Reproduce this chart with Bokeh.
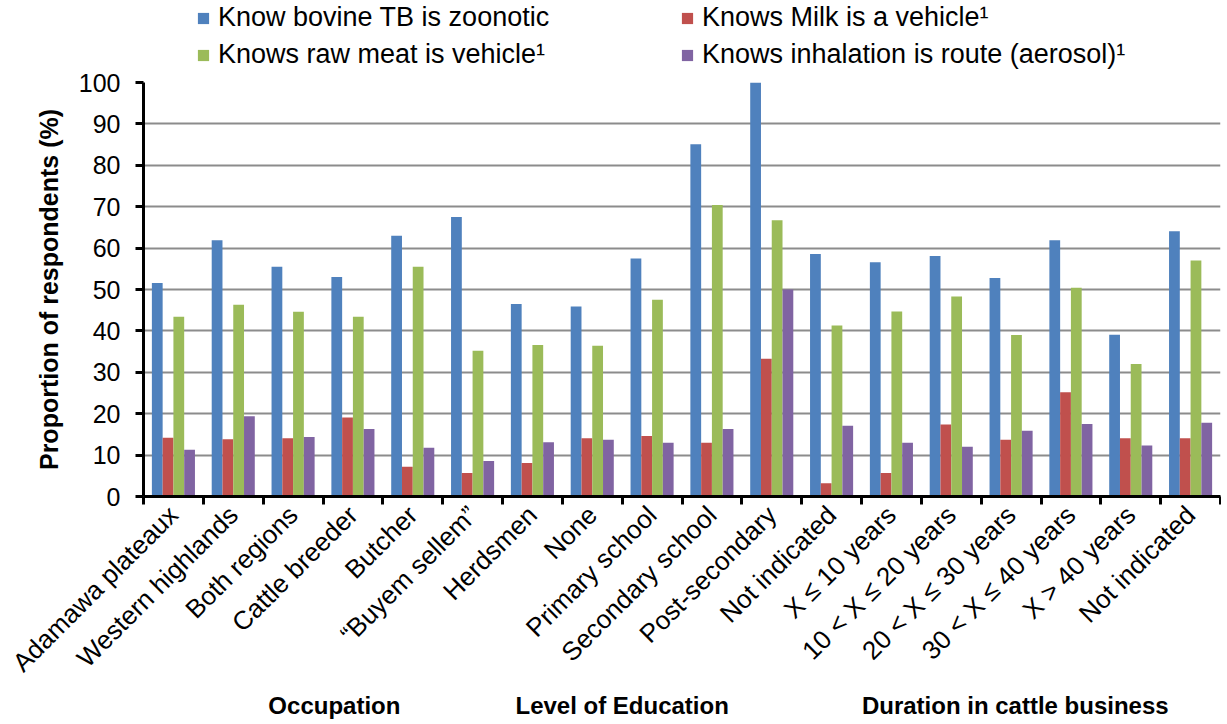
import math
from bokeh.plotting import figure
from bokeh.layouts import column
from bokeh.models import ColumnDataSource, FixedTicker, Legend, LegendItem, LinearAxis, Range1d
from bokeh.embed import file_html
from bokeh.resources import INLINE

categories = ["Adamawa plateaux", "Western highlands", "Both regions", "Cattle breeder",
              "Butcher", "\u201cBuyem sellem\u201d", "Herdsmen", "None", "Primary school",
              "Secondary school", "Post-secondary", "Not indicated", "X \u2264 10 years",
              "10 < X \u2264 20 years", "20 < X \u2264 30 years", "30 < X \u2264 40 years",
              "X > 40 years", "Not indicated"]

zoonotic = [51.6, 61.9, 55.5, 53.0, 63.0, 67.5, 46.5, 45.9, 57.5, 85.1, 100.0, 58.6,
            56.6, 58.1, 52.8, 61.9, 39.1, 64.1]
milk = [14.2, 13.8, 14.1, 19.1, 7.2, 5.7, 8.1, 14.1, 14.6, 13.0, 33.3, 3.2,
        5.7, 17.4, 13.7, 25.2, 14.1, 14.1]
meat = [43.4, 46.3, 44.6, 43.4, 55.5, 35.2, 36.6, 36.4, 47.5, 70.4, 66.7, 41.3,
        44.7, 48.3, 39.0, 50.4, 32.0, 57.0]
aerosol = [11.3, 19.4, 14.4, 16.3, 11.8, 8.6, 13.1, 13.7, 13.0, 16.3, 50.0, 17.1,
           13.0, 12.0, 15.9, 17.5, 12.3, 17.8]

series_names = ["Know bovine TB is zoonotic", "Knows Milk is a vehicle\u00b9",
                "Knows raw meat is vehicle\u00b9", "Knows inhalation is route (aerosol)\u00b9"]
series_values = [zoonotic, milk, meat, aerosol]
colors = ["#4F81BD", "#C0504D", "#9BBB59", "#8064A2"]

group_labels = ["Occupation", "Level of Education", "Duration in cattle business"]
group_label_x = [3.19, 8.0, 14.57]

FONT = "Liberation Sans"
n = len(categories)
bar_w = 0.18
offsets = [-0.27, -0.09, 0.09, 0.27]

# ---------------- main chart ----------------
p = figure(width=1221, height=652, output_backend="svg", toolbar_location=None,
           x_range=Range1d(0, n), y_range=Range1d(0, 100),
           min_border_left=143, min_border_right=1, min_border_top=12, min_border_bottom=226)
p.outline_line_color = None
p.background_fill_color = "white"

sources = []
renderers = []
for vals, col, off in zip(series_values, colors, offsets):
    src = ColumnDataSource(dict(x=[i + 0.5 + off for i in range(n)], top=vals))
    sources.append(src)
    r = p.vbar(x="x", top="top", width=bar_w, bottom=0, source=src,
               fill_color=col, line_color=None)
    renderers.append(r)

p.yaxis.ticker = FixedTicker(ticks=list(range(0, 101, 10)))
p.yaxis.axis_line_width = 3
p.yaxis.axis_line_color = "black"
p.yaxis.major_tick_out = 8
p.yaxis.major_tick_in = 0
p.yaxis.major_tick_line_width = 3
p.yaxis.minor_tick_line_color = None
p.yaxis.major_label_text_font = FONT
p.yaxis.major_label_text_font_size = "25px"
p.yaxis.major_label_text_color = "black"
p.yaxis.major_label_standoff = 15
p.yaxis.axis_label = "Proportion of respondents (%)"
p.yaxis.axis_label_text_font = FONT
p.yaxis.axis_label_text_font_size = "25px"
p.yaxis.axis_label_text_font_style = "bold"
p.yaxis.axis_label_text_color = "black"
p.yaxis.axis_label_standoff = 13

p.ygrid.ticker = FixedTicker(ticks=list(range(0, 101, 10)))
p.ygrid.grid_line_color = "#8C8C8C"
p.ygrid.grid_line_width = 2
p.xgrid.grid_line_color = None

centers = [i + 0.5 for i in range(n)]
bounds = [float(i) for i in range(n + 1)]
xa = p.xaxis[0]
xa.ticker = FixedTicker(ticks=centers, minor_ticks=bounds)
xa.major_label_overrides = {c: lab for c, lab in zip(centers, categories)}
xa.axis_line_width = 3
xa.axis_line_color = "black"
xa.major_tick_out = 0
xa.major_tick_in = 0
xa.minor_tick_out = 8
xa.minor_tick_in = 0
xa.minor_tick_line_width = 3
xa.minor_tick_line_color = "black"
xa.major_label_orientation = math.pi / 4
xa.major_label_text_font = FONT
xa.major_label_text_font_size = "26px"
xa.major_label_text_color = "black"
xa.major_label_standoff = 6

ga = LinearAxis(ticker=FixedTicker(ticks=group_label_x),
                major_label_overrides={gx: g for gx, g in zip(group_label_x, group_labels)},
                axis_line_color=None, major_tick_line_color=None, minor_tick_line_color=None,
                major_tick_out=0, major_tick_in=0,
                major_label_text_font=FONT, major_label_text_font_size="24px",
                major_label_text_font_style="bold", major_label_text_color="black",
                major_label_standoff=0)
p.add_layout(ga, "below")

# ---------------- legend strip ----------------
# hidden copies of the series; only their legend entries are drawn
lf = figure(width=1221, height=70, output_backend="svg", toolbar_location=None,
            x_axis_type=None, y_axis_type=None, x_range=Range1d(0, n), y_range=Range1d(0, 100),
            min_border=0)
lf.outline_line_color = None
lf.xgrid.grid_line_color = None
lf.ygrid.grid_line_color = None
lrs = []
for src, col in zip(sources, colors):
    lrs.append(lf.vbar(x="x", top="top", width=bar_w, source=src, fill_color=col,
                       line_color=None, visible=False))

order = [0, 2, 1, 3]   # column-major fill -> rows: (0,1), (2,3)
legend = Legend(items=[LegendItem(label=series_names[k], renderers=[lrs[k]]) for k in order],
                ncols=2, location=(53, 0), label_text_font=FONT, label_text_font_size="27px",
                label_text_color="black", glyph_width=14, glyph_height=14, label_standoff=8,
                label_width=456, label_height=26, spacing=6, padding=0, margin=0,
                border_line_color=None, background_fill_alpha=0, inactive_fill_alpha=0)
lf.add_layout(legend, "center")

layout = column(lf, p, spacing=0)
open("out.html", "w").write(file_html(layout, INLINE))
